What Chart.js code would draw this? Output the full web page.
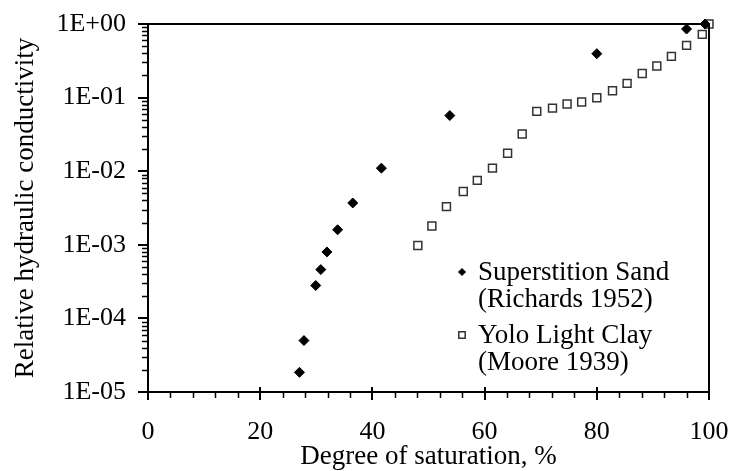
<!DOCTYPE html>
<html>
<head>
<meta charset="utf-8">
<script src="https://cdn.jsdelivr.net/npm/chart.js@4"></script>
<style>
  body { margin: 0; background: #fff; }
  canvas { display: block; }
</style>
</head>
<body>
<canvas id="chart" width="730" height="471"></canvas>
<script>
// Degree of saturation (%) and relative conductivity
const sandSat = [27.0, 27.8, 29.9, 30.8, 31.9, 33.8, 36.5, 41.6, 53.8, 80.0, 96.0, 99.3];
const sandK = [1.85e-5, 5.0e-5, 2.8e-4, 4.6e-4, 8.0e-4, 1.6e-3, 3.7e-3, 1.1e-2, 5.7e-2, 0.395, 0.855, 1.0];
const claySat = [48.1, 50.6, 53.2, 56.2, 58.7, 61.4, 64.1, 66.7, 69.3, 72.1, 74.7, 77.3, 80.0, 82.8, 85.4, 88.1, 90.7, 93.3, 96.0, 98.8, 100];
const clayK = [9.8e-4, 1.8e-3, 3.3e-3, 5.3e-3, 7.5e-3, 1.1e-2, 1.75e-2, 3.2e-2, 6.5e-2, 7.2e-2, 8.2e-2, 8.7e-2, 0.0997, 0.124, 0.156, 0.213, 0.269, 0.363, 0.512, 0.722, 1.0];

const seriesLabels = ['Superstition Sand\n(Richards 1952)', 'Yolo Light Clay\n(Moore 1939)'];
const xTickValues = [0, 20, 40, 60, 80, 100];
const xTickLabels = ['0', '20', '40', '60', '80', '100'];
const yTickValues = [1e-5, 1e-4, 1e-3, 1e-2, 1e-1, 1];
const yTickLabels = ['1E-05', '1E-04', '1E-03', '1E-02', '1E-01', '1E+00'];
const xMinorStep = 4;
const xTitle = 'Degree of saturation, %';
const yTitle = 'Relative hydraulic conductivity';

const FONT = "'Liberation Serif', 'Times New Roman', serif";

// frame + tick marks (major longer than minor)
const framePlugin = {
  id: 'frame',
  afterDraw(chart) {
    const { ctx, chartArea: a, scales: { x, y } } = chart;
    ctx.save();
    ctx.strokeStyle = '#000';
    ctx.lineWidth = 2;
    ctx.strokeRect(a.left, a.top, a.right - a.left, a.bottom - a.top);

    // y ticks, pointing left
    yTickValues.forEach((d, i) => {
      const py = Math.round(y.getPixelForValue(d));
      ctx.lineWidth = 2;
      ctx.beginPath(); ctx.moveTo(a.left - 10, py); ctx.lineTo(a.left, py); ctx.stroke();
      if (i < yTickValues.length - 1) {
        ctx.lineWidth = 1.5;
        for (let m = 2; m <= 9; m++) {
          const my = Math.round(y.getPixelForValue(d * m)) + 0.5;
          ctx.beginPath(); ctx.moveTo(a.left - 6, my); ctx.lineTo(a.left, my); ctx.stroke();
        }
      }
    });

    // x ticks, majors cross the axis
    for (let v = 0; v <= 100; v += xMinorStep) {
      const px = Math.round(x.getPixelForValue(v));
      if (xTickValues.includes(v)) {
        ctx.lineWidth = 2;
        ctx.beginPath(); ctx.moveTo(px, a.bottom - 5); ctx.lineTo(px, a.bottom + 8); ctx.stroke();
      } else {
        ctx.lineWidth = 1.5;
        ctx.beginPath(); ctx.moveTo(px + 0.5, a.bottom); ctx.lineTo(px + 0.5, a.bottom + 6); ctx.stroke();
      }
    }
    ctx.restore();
  }
};

// legend inside the plot, two-line labels
const legendPlugin = {
  id: 'innerLegend',
  afterDraw(chart) {
    const { ctx, chartArea: a } = chart;
    const x0 = a.right - 247;
    let yy = a.bottom - 120;
    ctx.save();
    ctx.font = '27px ' + FONT;
    ctx.textBaseline = 'middle';
    ctx.fillStyle = '#000';
    chart.data.datasets.forEach(ds => {
      ctx.save();
      ctx.fillStyle = ds.backgroundColor;
      ctx.strokeStyle = ds.borderColor;
      ctx.lineWidth = ds.borderWidth;
      Chart.helpers.drawPoint(ctx, { pointStyle: ds.pointStyle, radius: ds.pointStyle === 'rect' ? 4.5 : 3.5, borderWidth: ds.borderWidth }, x0, yy);
      ctx.restore();
      ds.label.split('\n').forEach((line, i) => {
        ctx.fillText(line, x0 + 16, yy + 1 + i * 27);
      });
      yy += 63;
    });
    ctx.restore();
  }
};

new Chart(document.getElementById('chart'), {
  type: 'scatter',
  data: {
    datasets: [
      {
        label: seriesLabels[0],
        data: sandSat.map((s, i) => ({ x: s, y: sandK[i] })),
        pointStyle: 'rectRot',
        pointRadius: 5,
        backgroundColor: '#000',
        borderColor: '#000',
        borderWidth: 1,
        clip: false
      },
      {
        label: seriesLabels[1],
        data: claySat.map((s, i) => ({ x: s, y: clayK[i] })),
        pointStyle: 'rect',
        pointRadius: 5.6,
        backgroundColor: '#fff',
        borderColor: '#333',
        borderWidth: 1.5,
        clip: false
      }
    ]
  },
  options: {
    responsive: false,
    animation: false,
    events: [],
    layout: { padding: { top: 24, right: 21, left: 0, bottom: 0 } },
    plugins: { legend: { display: false }, tooltip: { enabled: false } },
    scales: {
      x: {
        type: 'linear',
        min: 0,
        max: 100,
        afterBuildTicks: s => { s.ticks = xTickValues.map(v => ({ value: v })); },
        afterFit: s => { s.height = 79; s.paddingLeft = 0; s.paddingRight = 0; },
        grid: { display: false, drawTicks: false },
        border: { display: false },
        ticks: {
          padding: 27,
          color: '#000',
          font: { family: FONT, size: 26, lineHeight: 1 },
          maxRotation: 0,
          callback: (v, i) => xTickLabels[i]
        },
        title: {
          display: true,
          text: xTitle,
          color: '#000',
          font: { family: FONT, size: 27, lineHeight: 1 },
          padding: { top: 0, bottom: 1 }
        }
      },
      y: {
        type: 'logarithmic',
        min: 1e-5,
        max: 1,
        afterBuildTicks: s => { s.ticks = yTickValues.map(v => ({ value: v })); },
        afterFit: s => { s.width = 148; s.paddingTop = 0; s.paddingBottom = 0; },
        grid: { display: false, drawTicks: false },
        border: { display: false },
        ticks: {
          padding: 22,
          color: '#000',
          font: { family: FONT, size: 26, lineHeight: 1 },
          callback: (v, i) => yTickLabels[i]
        },
        title: {
          display: true,
          text: yTitle,
          color: '#000',
          font: { family: FONT, size: 27, lineHeight: 1 },
          padding: { top: 12, bottom: 0 }
        }
      }
    }
  },
  plugins: [framePlugin, legendPlugin]
});
</script>
</body>
</html>
